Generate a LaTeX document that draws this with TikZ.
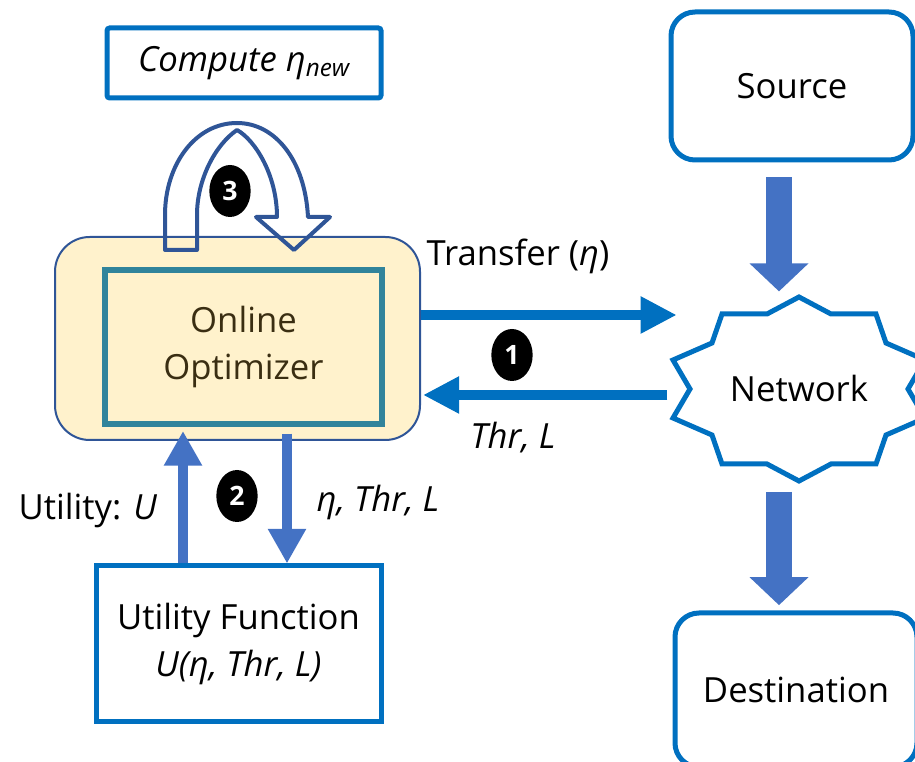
\documentclass[tikz,border=0pt]{standalone}
\usepackage{fontspec}
\setmainfont{Open Sans}
\usepackage{tikz}
\usetikzlibrary{arrows.meta, positioning, shapes.geometric}
\definecolor{BLU}{HTML}{0070C0}
\definecolor{BLK}{HTML}{4472C4}
\definecolor{DRK}{HTML}{2F5597}
\definecolor{TEA}{HTML}{31849B}
\definecolor{CRM}{HTML}{FFF2CC}
\definecolor{BRN}{HTML}{3A2E12}
\tikzset{
  PX/.style 2 args={% size given in pixels
      minimum width={#1*0.75pt}, minimum height={#2*0.75pt},
  },
  BOX/.style={% plain blue boxes
      rectangle, line width=3.75pt,
      draw=BLU, fill=white,
      inner sep=0pt,
      align=center,
      text=black,
  },
  RBOX/.style={% rounded blue boxes (source, destination)
      BOX, rounded corners=18pt,
  },
  OPTOUT/.style={% cream frame round the optimizer
      rectangle, rounded corners=26pt,
      line width=1.5pt, draw=DRK, fill=CRM,
      inner sep=0pt,
  },
  OPTIN/.style={% inner optimizer box
      rectangle, line width=4.5pt,
      draw=TEA, fill=CRM,
      inner sep=0pt, align=center,
      text=BRN,
  },
  BADGE/.style={% black step numbers
      ellipse, fill=black, text=white,
      inner sep=0pt, minimum width=31pt, minimum height=39pt,
      font=\fontsize{20}{20}\selectfont\bfseries,
  },
  LBL/.style={inner sep=0pt},
  FLOW/.style={line width=8pt, draw=BLU, -{Triangle[length=27pt, width=26pt]}},
  VFLOW/.style={line width=7.5pt, draw=BLK, -{Triangle[length=26pt, width=27pt]}},
  BLOCKARR/.style={line width=20pt, draw=BLK, -{Triangle[length=21pt, width=43pt]}},
  LOOP/.style={line width=3pt, draw=DRK, line join=round},
}

\begin{document}
\begin{tikzpicture}[x=0.75pt, y=-0.75pt, font=\fontsize{26}{35}\selectfont]
    \useasboundingbox (0,0) rectangle (915,762);
    \clip (0,0) rectangle (915,762);
    % boxes
    \node[BOX, rounded corners=2pt, PX={274}{70}] (cmp) at (244,63) {\textit{Compute η\textsubscript{new}}};
    \node[OPTOUT, PX={365}{203}] (outer) at (237.5,338.5) {};
    \node[OPTIN, PX={277}{154}] (opt) at (243.5,347) {Online\\Optimizer};
    \node[BOX, PX={285}{156}] (util) at (238.5,644) {Utility Function\\\textit{U(η, Thr, L)}};
    \node[RBOX, PX={242}{148}] (src) at (792,86) {Source};
    \node[RBOX, PX={242}{154}] (dst) at (796,690) {Destination};
    \node[LBL, PX={252}{184}] (net) at (799,389) {};
    % star outline of the network
    \draw[line width=3.75pt, draw=BLU, line join=miter, shift={(net.center)}]
      (0,-92) -- (-32,-75) -- (-77,-75) -- (-87,-46) -- (-126,-29) -- (-109,0)
      -- (-126,29) -- (-87,46) -- (-77,75) -- (-32,75) -- (0,92) -- (32,75)
      -- (77,75) -- (87,46) -- (126,29) -- (109,0) -- (126,-29) -- (87,-46)
      -- (77,-75) -- (32,-75) -- cycle;
    \node[LBL] at (net.center) {Network};
    % loop arrow on top of the optimizer
    \draw[LOOP] (165,250) -- (165,215) .. controls (165,165) and (195,123) .. (237,123)
      .. controls (275,123) and (305,160) .. (308,217) -- (330,217) -- (294,250)
      -- (256,217) -- (277,217) .. controls (277,175) and (255,140) .. (237,130)
      .. controls (215,145) and (197,180) .. (197,215) -- (197,250) -- cycle;
    % step numbers
    \node[BADGE] (b3) at (230,191) {3};
    \node[BADGE] (b1) at (512,355) {1};
    \node[BADGE] (b2) at (237,496) {2};
    % arrows
    \coordinate (xfer) at (0,315);
    \coordinate (thr) at (0,395);
    \coordinate (upx) at (183,0);
    \coordinate (dnx) at (287,0);
    \coordinate (bx) at (779,0);
    \draw[FLOW] (outer.east |- xfer) -- ([xshift=3pt]net.west |- xfer);
    \draw[FLOW] ([xshift=-4pt]net.west |- thr) -- ([xshift=1.5pt]outer.east |- thr);
    \draw[VFLOW] (util.north -| upx) -- ([yshift=-3pt]opt.south -| upx);
    \draw[VFLOW] ([yshift=-5pt]opt.south -| dnx) -- (util.north -| dnx);
    \draw[BLOCKARR] ([yshift=-11pt]src.south -| bx) -- ([yshift=4pt]net.north -| bx);
    \draw[BLOCKARR] ([yshift=-8pt]net.south -| bx) -- ([yshift=4pt]dst.north -| bx);
    % labels
    \node[LBL] (lxfer) at (518,256) {Transfer (\textit{η})};
    \node[LBL] (lthr) at (513,438) {\textit{Thr, L}};
    \node[LBL] (lutil) at (88,510) {Utility: \textit{U}};
    \node[LBL] (leta) at (378,502) {\textit{η, Thr, L}};
\end{tikzpicture}
\end{document}
